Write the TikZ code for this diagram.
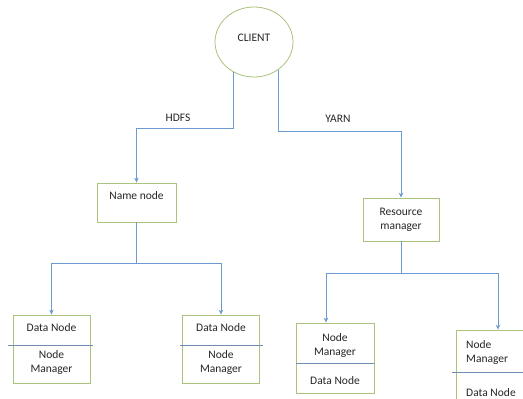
\documentclass[tikz,border=0pt]{standalone}
\usepackage{fontspec}
\setmainfont{Carlito}
\usetikzlibrary{shapes.geometric,arrows.meta}
\definecolor{lineblue}{HTML}{6C9BD2}
\definecolor{boxgreen}{HTML}{A9C27C}
\definecolor{divblue}{HTML}{6F8DB3}
\definecolor{txt}{HTML}{262626}
\tikzset{
  conn/.style={draw=lineblue, line width=0.8pt},
  arr/.style={conn, -{Stealth[length=5pt,width=4.5pt]}},
  box/.style={draw=boxgreen, line width=0.8pt, rectangle, inner sep=0pt, fill=white},
  divider/.style={draw=divblue, line width=0.8pt},
  lbl/.style={text=txt, font=\fontsize{11.5}{14}\selectfont, inner sep=0pt, align=center},
  lbll/.style={lbl, align=left, anchor=west}
}
\begin{document}
\begin{tikzpicture}[x=1pt,y=-1pt]
\useasboundingbox (0,0) rectangle (523,399);
\clip (0,0) rectangle (523,399);
\fill[white] (0,0) rectangle (523,399);
% client
\node[ellipse, draw=boxgreen, line width=0.8pt, minimum width=78pt, minimum height=70pt, inner sep=0pt] (client) at (254,42) {};
\node[lbl] (clientt) at (254,38) {CLIENT};
% name node
\node[box, minimum width=79pt, minimum height=39pt] (name) at (136.5,202.5) {};
\node[lbl] (namet) at (136.5,196) {Name node};
% resource manager
\node[box, minimum width=76pt, minimum height=43pt] (rm) at (401,219.5) {};
\node[lbl] (rmt) at (401,220) {Resource\\manager};
% data boxes
\node[box, minimum width=77pt, minimum height=68pt] (dn1) at (51.5,349) {};
\node[box, minimum width=77pt, minimum height=68pt] (dn2) at (221,349) {};
\node[box, minimum width=78pt, minimum height=70pt] (dn3) at (335,358) {};
\node[box, minimum width=80pt, minimum height=80pt] (dn4) at (496,370) {};
\draw[divider] (8,345) -- (93,345);
\draw[divider] (180,345) -- (263,345);
\draw[divider] (296,363) -- (374,363);
\draw[divider] (452,372) -- (523,372);
\node[lbl] (t1a) at (51.5,328) {Data Node};
\node[lbl] (t1b) at (51.5,362) {Node\\Manager};
\node[lbl] (t2a) at (221,328) {Data Node};
\node[lbl] (t2b) at (221,362) {Node\\Manager};
\node[lbl] (t3a) at (335,345.5) {Node\\Manager};
\node[lbl] (t3b) at (335,381) {Data Node};
\node[lbll] (t4a) at (466,352) {Node\\Manager};
\node[lbll] (t4b) at (466,393) {Data Node};
% labels
\node[lbl] (hdfs) at (178,118) {HDFS};
\node[lbl] (yarn) at (338,119) {YARN};
% connectors
\draw[arr] (client.236) -- (client.236 |- 0,128) -| (name.north);
\draw[arr] (client.311) -- (client.311 |- 0,131) -| (rm.north);
\draw[arr] (name.south) -- (name.south |- 0,263) -| (dn1.north);
\draw[arr] (name.south) -- (name.south |- 0,263) -| (dn2.north);
\draw[arr] (rm.south) -- (rm.south |- 0,273) -| ([xshift=-9pt]dn3.north);
\draw[arr] (rm.south) -- (rm.south |- 0,273) -| ([xshift=2pt]dn4.north);
\end{tikzpicture}
\end{document}
